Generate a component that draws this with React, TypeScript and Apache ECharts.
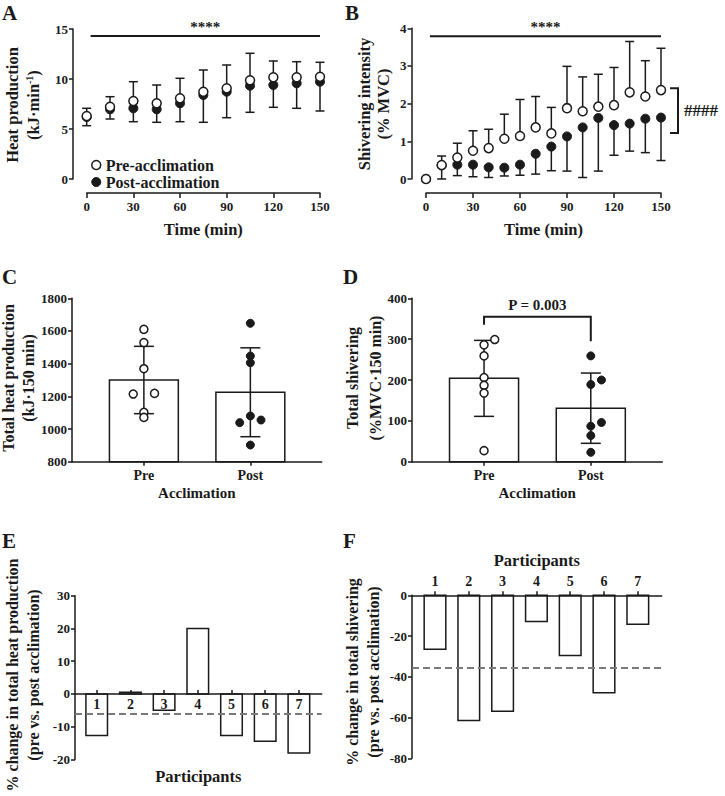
import React, { useEffect, useRef } from 'react';
import * as echarts from 'echarts';

const FONT = '"Liberation Serif", "Times New Roman", Times, serif';
const INK = '#1a1a1a';
const GRAY = '#7a7a7a';

// ---- Panel A: heat production over time (kJ/min) ----
const aTime = [0, 15, 30, 45, 60, 75, 90, 105, 120, 135, 150];
const aPreMean = [6.3, 7.23, 7.8, 7.57, 8.07, 8.73, 9.07, 9.87, 10.17, 10.17, 10.23];
const aPreSD = [0.77, 1.0, 1.93, 1.83, 2.0, 2.17, 2.33, 2.7, 1.63, 1.56, 1.44];
const aPostMean = [6.2, 6.97, 7.07, 6.97, 7.57, 8.4, 8.73, 9.33, 9.4, 9.57, 9.73];
const aPostSD = [0.87, 0.97, 1.34, 1.3, 1.84, 2.73, 2.6, 2.66, 2.23, 2.5, 2.93];
const aSig = [2.5, 150, 14.3];

// ---- Panel B: shivering intensity over time (% MVC) ----
const bTime = [0, 10, 20, 30, 40, 50, 60, 70, 80, 90, 100, 110, 120, 130, 140, 150];
const bPreMean = [0, 0.37, 0.57, 0.75, 0.82, 1.07, 1.14, 1.37, 1.21, 1.88, 1.8, 1.92, 1.96, 2.3, 2.19, 2.36];
const bPreSD = [0, 0.24, 0.38, 0.53, 0.5, 0.65, 0.97, 0.82, 0.69, 1.11, 0.91, 0.86, 1.0, 1.35, 0.95, 1.11];
const bPostMean = [0, 0.36, 0.38, 0.38, 0.31, 0.3, 0.38, 0.67, 0.86, 1.13, 1.37, 1.62, 1.43, 1.47, 1.6, 1.63];
const bPostSD = [0, 0.36, 0.29, 0.32, 0.27, 0.22, 0.28, 0.54, 0.64, 0.92, 1.33, 1.41, 0.8, 0.73, 0.9, 1.14];
const bSig = [2.5, 150, 3.79];
const bGroupBracket = [150, 2.41, 1.22];

// ---- Panel C: total heat production ----
const groupLabels = ['Pre', 'Post'];
const cMean = [1300, 1225];
const cSD = [206, 272];
const cPrePts = [1610, 1529, 1369, 1214, 1218, 1102, 1071];
const cPreJit = [0, 0, 0, -0.1, 0.1, 0, 0];
const cPostPts = [1647, 1447, 1406, 1080, 1039, 1055, 902];
const cPostJit = [0, 0, 0, 0, -0.1, 0.1, 0];

// ---- Panel D: total shivering ----
const dMean = [204, 131];
const dSD = [93, 86];
const dPrePts = [286, 299, 259, 206, 187, 168, 27];
const dPreJit = [0, 0.1, 0, 0, 0, 0, 0];
const dPostPts = [259, 200, 189, 87, 96, 64, 23];
const dPostJit = [0, 0.1, 0, 0, 0.1, 0, 0];
const dBracket = [0, 1, 335, 355, 295];

// ---- Panels E/F: % change per participant ----
const participants = [1, 2, 3, 4, 5, 6, 7];
const eChange = [-12.7, 0.5, -5.0, 20.0, -12.7, -14.4, -18.05];
const fChange = [-26.5, -61.5, -56.9, -12.8, -29.6, -47.8, -14.2];

const mean = (a: number[]) => a.reduce((s, v) => s + v, 0) / a.length;

const axisLineS = (onZero = false) => ({ show: true, onZero, lineStyle: { color: INK, width: 1.5 } });
const tickS = (len: number, inside = false) => ({ show: true, length: len, inside, lineStyle: { color: INK, width: 1.5 } });
const lblS = (size: number, margin: number) => ({ color: INK, fontFamily: FONT, fontWeight: 'bold', fontSize: size, margin, formatter: (v: number) => String(v) });
const nameS = (size: number) => ({ color: INK, fontFamily: FONT, fontWeight: 'bold', fontSize: size });

function errorBars(idx: number, data: number[][], dir: number, capHalf: number) {
  return {
    type: 'custom', xAxisIndex: idx, yAxisIndex: idx, silent: true, z: 3,
    data,
    renderItem: (_p: any, api: any) => {
      const x = api.value(0), m = api.value(1), sd = api.value(2);
      if (!sd) return null;
      const p0 = api.coord([x, m]);
      const dirs = dir === 0 ? [1, -1] : [dir];
      const children: any[] = [];
      dirs.forEach((d) => {
        const p1 = api.coord([x, m + d * sd]);
        children.push({ type: 'line', shape: { x1: p0[0], y1: p0[1], x2: p1[0], y2: p1[1] }, style: { stroke: INK, lineWidth: 1.5 } });
        children.push({ type: 'line', shape: { x1: p1[0] - capHalf, y1: p1[1], x2: p1[0] + capHalf, y2: p1[1] }, style: { stroke: INK, lineWidth: 1.5 } });
      });
      return { type: 'group', children };
    },
  };
}

function bars(idx: number, data: number[][], bw: number, base: number, extra: any = {}) {
  return {
    type: 'custom', xAxisIndex: idx, yAxisIndex: idx, silent: true, z: 2,
    data,
    renderItem: (_p: any, api: any) => {
      const x = api.value(0), v = api.value(1);
      const a = api.coord([x - bw / 2, v]);
      const b = api.coord([x + bw / 2, base]);
      return {
        type: 'rect',
        shape: { x: Math.min(a[0], b[0]), y: Math.min(a[1], b[1]), width: Math.abs(b[0] - a[0]), height: Math.max(1, Math.abs(b[1] - a[1])) },
        style: { fill: '#fff', stroke: INK, lineWidth: 1.5 },
      };
    },
    ...extra,
  };
}

function scatter(idx: number, name: string, data: number[][], open: boolean, size: number) {
  return {
    type: 'scatter', name, xAxisIndex: idx, yAxisIndex: idx, z: 4, silent: true,
    symbol: 'circle', symbolSize: size, data,
    itemStyle: open ? { color: '#fff', borderColor: INK, borderWidth: 1.5, opacity: 1 } : { color: INK, borderColor: INK, borderWidth: 1, opacity: 1 },
  };
}

function sigLine(idx: number, seg: number[], label: string) {
  return {
    type: 'custom', xAxisIndex: idx, yAxisIndex: idx, silent: true, clip: false, z: 5,
    data: [seg],
    renderItem: (_p: any, api: any) => {
      const a = api.coord([api.value(0), api.value(2)]);
      const b = api.coord([api.value(1), api.value(2)]);
      return {
        type: 'group', children: [
          { type: 'line', shape: { x1: a[0], y1: a[1], x2: b[0], y2: b[1] }, style: { stroke: INK, lineWidth: 2 } },
          { type: 'text', x: (a[0] + b[0]) / 2, y: a[1] - 2, style: { text: label, fill: INK, font: `bold 15px ${FONT}`, align: 'center', verticalAlign: 'bottom' } },
        ],
      };
    },
  };
}

const vText = (text: string, x: number, y: number, size = 16, rich?: any) => ({
  type: 'text', x, y, rotation: Math.PI / 2,
  style: { text, fill: INK, font: `bold ${size}px ${FONT}`, fontFamily: FONT, fontWeight: 'bold', fontSize: size, align: 'center', verticalAlign: 'middle', rich },
});
const letter = (t: string, x: number, y: number) => ({
  type: 'text', x, y, style: { text: t, fill: INK, font: `bold 21px ${FONT}`, align: 'left', verticalAlign: 'top' },
});

export default function App() {
  const ref = useRef<HTMLDivElement>(null);
  useEffect(() => {
    if (!ref.current) return;
    const chart = echarts.init(ref.current, undefined, { renderer: 'svg' });
    const eMean = mean(eChange);
    const fMean = mean(fChange);
    const g = (left: number, top: number, width: number, height: number) => ({ left, top, width, height, outerBoundsMode: 'none', containLabel: false });
    const option: any = {
      animation: false,
      backgroundColor: '#fff',
      grid: [
        g(86.7, 29, 233.3, 150),
        g(426, 28.3, 235, 150.7),
        g(72, 298.3, 249.7, 163.4),
        g(412, 298.3, 250.3, 163.4),
        g(75, 595.7, 246.7, 163.8),
        g(412, 595.3, 249.7, 163),
      ],
      xAxis: [
        { gridIndex: 0, type: 'value', min: 0, max: 150, interval: 30, offset: 14, axisLine: axisLineS(), axisTick: tickS(5), axisLabel: lblS(13, 7), splitLine: { show: false }, name: 'Time (min)', nameLocation: 'middle', nameGap: 28, nameTextStyle: nameS(16.5) },
        { gridIndex: 1, type: 'value', min: 0, max: 150, interval: 30, offset: 14, axisLine: axisLineS(), axisTick: tickS(5), axisLabel: lblS(13, 7), splitLine: { show: false }, name: 'Time (min)', nameLocation: 'middle', nameGap: 28, nameTextStyle: nameS(16.5) },
        { gridIndex: 2, type: 'value', min: -0.675, max: 1.67, axisLine: axisLineS(), axisTick: { ...tickS(4), customValues: [0, 1] }, axisLabel: { ...lblS(14, 7), customValues: [0, 1], formatter: (v: number) => groupLabels[Math.round(v)] }, splitLine: { show: false }, name: 'Acclimation', nameLocation: 'middle', nameGap: 24, nameTextStyle: nameS(15) },
        { gridIndex: 3, type: 'value', min: -0.675, max: 1.67, axisLine: axisLineS(), axisTick: { ...tickS(4), customValues: [0, 1] }, axisLabel: { ...lblS(14, 7), customValues: [0, 1], formatter: (v: number) => groupLabels[Math.round(v)] }, splitLine: { show: false }, name: 'Acclimation', nameLocation: 'middle', nameGap: 24, nameTextStyle: nameS(15) },
        // E: axis line shifted up to the y = 0 level (30 of 50 units below the top)
        { gridIndex: 4, type: 'value', min: 0.356, max: 7.677, z: 10, offset: -163.8 * 20 / 50, axisLine: axisLineS(false), axisTick: { ...tickS(4, true), customValues: participants }, axisLabel: { ...lblS(14, 4), customValues: participants }, splitLine: { show: false }, name: 'Participants', nameLocation: 'middle', nameGap: 74, nameTextStyle: nameS(16.5) },
        { gridIndex: 5, type: 'value', position: 'top', min: 0.32, max: 7.707, z: 10, axisLine: axisLineS(false), axisTick: { ...tickS(4), customValues: participants }, axisLabel: { ...lblS(14, 7), customValues: participants }, splitLine: { show: false }, name: 'Participants', nameLocation: 'middle', nameGap: 26, nameTextStyle: nameS(16.5) },
      ],
      yAxis: [
        { gridIndex: 0, type: 'value', min: 0, max: 15, interval: 5, offset: 13.7, axisLine: axisLineS(), axisTick: tickS(4), axisLabel: lblS(13, 5), splitLine: { show: false } },
        { gridIndex: 1, type: 'value', min: 0, max: 4, interval: 1, offset: 14.5, axisLine: axisLineS(), axisTick: tickS(4), axisLabel: lblS(13, 5), splitLine: { show: false } },
        { gridIndex: 2, type: 'value', min: 800, max: 1800, interval: 200, axisLine: axisLineS(), axisTick: tickS(4), axisLabel: lblS(13, 5), splitLine: { show: false } },
        { gridIndex: 3, type: 'value', min: 0, max: 400, interval: 100, axisLine: axisLineS(), axisTick: tickS(4), axisLabel: lblS(13, 5), splitLine: { show: false } },
        { gridIndex: 4, type: 'value', min: -20, max: 30, interval: 10, axisLine: axisLineS(), axisTick: tickS(4), axisLabel: lblS(13, 5), splitLine: { show: false } },
        { gridIndex: 5, type: 'value', min: -80, max: 0, interval: 20, axisLine: axisLineS(), axisTick: tickS(4), axisLabel: lblS(13, 5), splitLine: { show: false } },
      ],
      legend: {
        left: 86, top: 152, orient: 'vertical', itemWidth: 9, itemHeight: 9, itemGap: 1,
        textStyle: { fontFamily: FONT, fontWeight: 'bold', fontSize: 16, color: INK },
        data: [
          { name: 'Pre-acclimation', icon: 'circle', itemStyle: { color: '#fff', borderColor: INK, borderWidth: 1.5 } },
          { name: 'Post-acclimation', icon: 'circle', itemStyle: { color: INK, borderColor: INK, borderWidth: 1 } },
        ],
      },
      series: [
        // A
        errorBars(0, aTime.map((t, i) => [t, aPostMean[i], aPostSD[i]]), -1, 4.5),
        errorBars(0, aTime.map((t, i) => [t, aPreMean[i], aPreSD[i]]), 1, 4.5),
        scatter(0, 'Post-acclimation', aTime.map((t, i) => [t, aPostMean[i]]), false, 9),
        scatter(0, 'Pre-acclimation', aTime.map((t, i) => [t, aPreMean[i]]), true, 9),
        sigLine(0, aSig, '****'),
        // B
        errorBars(1, bTime.map((t, i) => [t, bPostMean[i], bPostSD[i]]), -1, 4.5),
        errorBars(1, bTime.map((t, i) => [t, bPreMean[i], bPreSD[i]]), 1, 4.5),
        scatter(1, 'Post-acclimation', bTime.map((t, i) => [t, bPostMean[i]]), false, 9),
        scatter(1, 'Pre-acclimation', bTime.map((t, i) => [t, bPreMean[i]]), true, 9),
        sigLine(1, bSig, '****'),
        {
          type: 'custom', xAxisIndex: 1, yAxisIndex: 1, silent: true, clip: false, z: 5,
          data: [bGroupBracket],
          renderItem: (_p: any, api: any) => {
            const t = api.coord([api.value(0), api.value(1)]);
            const b = api.coord([api.value(0), api.value(2)]);
            const x = t[0] + 17;
            return {
              type: 'group', children: [
                { type: 'polyline', shape: { points: [[x - 8, t[1]], [x, t[1]], [x, b[1]], [x - 8, b[1]]] }, style: { stroke: INK, lineWidth: 2, fill: null } },
                { type: 'text', x: x + 6, y: (t[1] + b[1]) / 2, style: { text: '####', fill: INK, font: `bold 17px ${FONT}`, align: 'left', verticalAlign: 'middle' } },
              ],
            };
          },
        },
        // C
        bars(2, cMean.map((m, i) => [i, m]), 0.647, 800),
        errorBars(2, cMean.map((m, i) => [i, m, cSD[i]]), 0, 10),
        scatter(2, 'C Pre', cPrePts.map((v, i) => [0 + cPreJit[i], v]), true, 8),
        scatter(2, 'C Post', cPostPts.map((v, i) => [1 + cPostJit[i], v]), false, 8),
        // D
        bars(3, dMean.map((m, i) => [i, m]), 0.647, 0),
        errorBars(3, dMean.map((m, i) => [i, m, dSD[i]]), 0, 10),
        scatter(3, 'D Pre', dPrePts.map((v, i) => [0 + dPreJit[i], v]), true, 8),
        scatter(3, 'D Post', dPostPts.map((v, i) => [1 + dPostJit[i], v]), false, 8),
        {
          type: 'custom', xAxisIndex: 3, yAxisIndex: 3, silent: true, clip: false, z: 5,
          data: [dBracket],
          renderItem: (_p: any, api: any) => {
            const x0 = api.value(0), x1 = api.value(1);
            const p1 = api.coord([x0, api.value(2)]);
            const p2 = api.coord([x0, api.value(3)]);
            const p3 = api.coord([x1, api.value(3)]);
            const p4 = api.coord([x1, api.value(4)]);
            return {
              type: 'group', children: [
                { type: 'polyline', shape: { points: [p1, p2, p3, p4] }, style: { stroke: INK, lineWidth: 2, fill: null } },
                { type: 'text', x: (p2[0] + p3[0]) / 2, y: p2[1] - 4, style: { text: 'P = 0.003', fill: INK, font: `bold 15px ${FONT}`, align: 'center', verticalAlign: 'bottom' } },
              ],
            };
          },
        },
        // E
        bars(4, participants.map((p, i) => [p, eChange[i]]), 0.64, 0, {
          markLine: { silent: true, symbol: 'none', label: { show: false }, lineStyle: { color: GRAY, type: [7, 4], width: 2 }, data: [{ yAxis: eMean }] },
        }),
        // F
        bars(5, participants.map((p, i) => [p, fChange[i]]), 0.64, 0, {
          markLine: { silent: true, symbol: 'none', label: { show: false }, lineStyle: { color: GRAY, type: [7, 4], width: 2 }, data: [{ yAxis: fMean }] },
        }),
      ],
      graphic: [
        letter('A', 2, 2), letter('B', 345, 2), letter('C', 2, 266), letter('D', 343, 266), letter('E', 2, 530), letter('F', 343, 530),
        vText('Heat production', 12, 105, 16.5),
        vText('{n|(kJ·min}{s|-1}{n|)}', 33, 105, 16.5, {
          n: { fontFamily: FONT, fontWeight: 'bold', fontSize: 16.5, fill: INK, lineHeight: 18 },
          s: { fontFamily: FONT, fontWeight: 'bold', fontSize: 10, fill: INK, lineHeight: 18, verticalAlign: 'top' },
        }),
        vText('Shivering intensity', 364, 104, 16.5),
        vText('(% MVC)', 383, 104, 16.5),
        vText('Total heat production', 8, 378),
        vText('(kJ·150 min)', 28, 378),
        vText('Total shivering', 352, 378),
        vText('(%MVC·150 min)', 375, 378),
        vText('% change in total heat production', 12, 675),
        vText('(pre vs. post acclimation)', 33, 675),
        vText('% change in total shivering', 352, 672),
        vText('(pre vs. post acclimation)', 373, 672),
      ],
    };
    chart.setOption(option);
    return () => chart.dispose();
  }, []);
  return <div ref={ref} style={{ position: 'fixed', left: 0, top: 0, width: 725, height: 796, background: '#fff' }} />;
}
